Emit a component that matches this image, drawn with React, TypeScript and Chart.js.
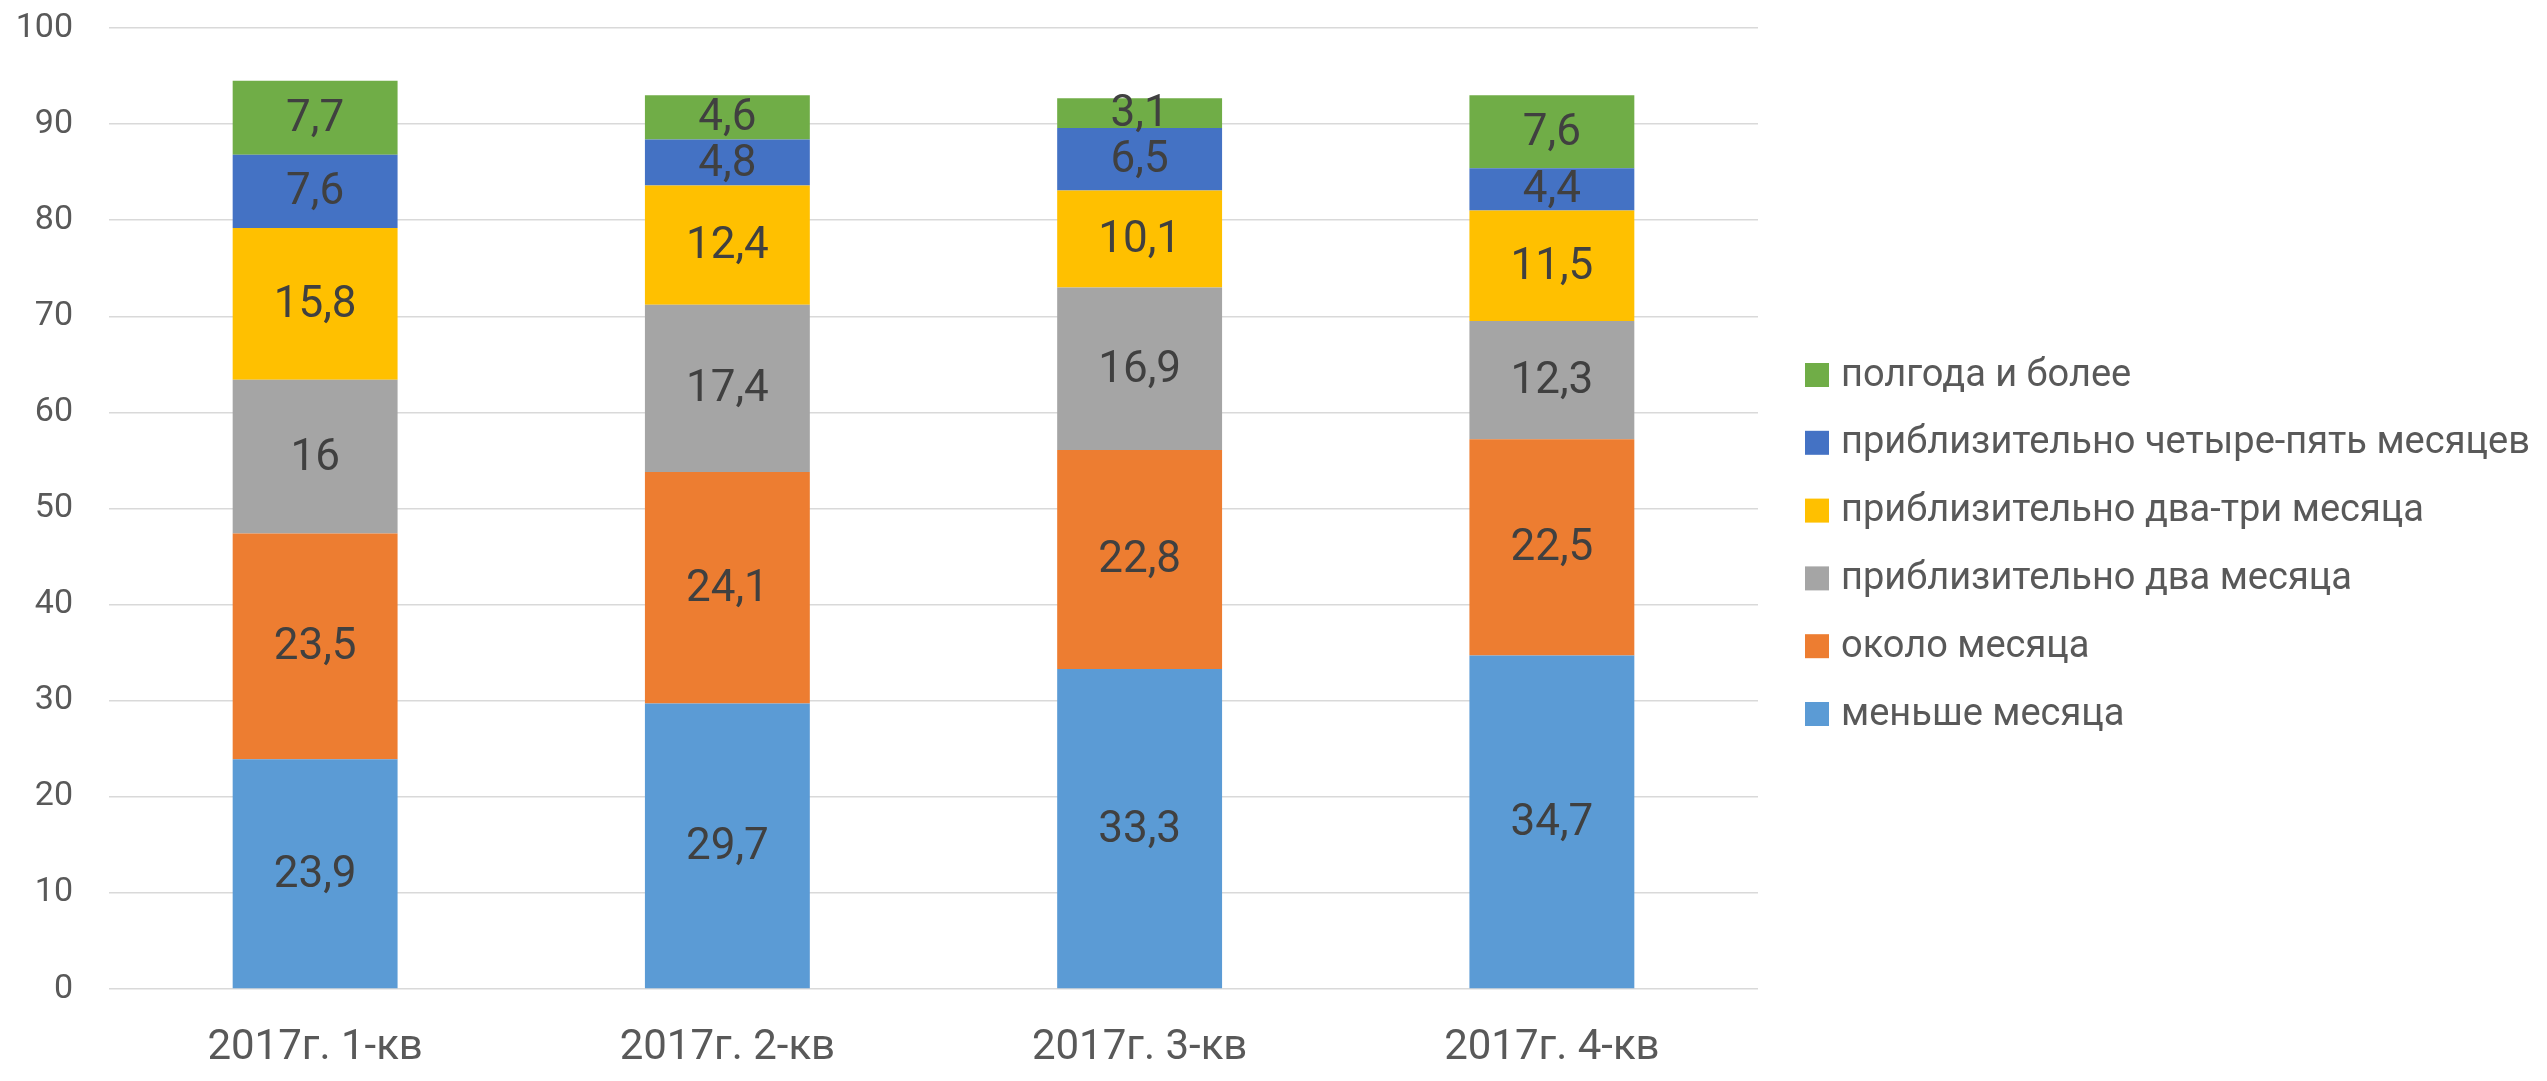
import React, { useEffect, useRef } from "react";
import { Chart, registerables } from "chart.js";

Chart.register(...registerables);

const categories = ["2017г. 1-кв", "2017г. 2-кв", "2017г. 3-кв", "2017г. 4-кв"];
const seriesNames = [
  "меньше месяца",
  "около месяца",
  "приблизительно два месяца",
  "приблизительно два-три месяца",
  "приблизительно четыре-пять месяцев",
  "полгода и более",
];
const lessThanMonth = [23.9, 29.7, 33.3, 34.7];
const aboutMonth = [23.5, 24.1, 22.8, 22.5];
const twoMonths = [16, 17.4, 16.9, 12.3];
const twoThreeMonths = [15.8, 12.4, 10.1, 11.5];
const fourFiveMonths = [7.6, 4.8, 6.5, 4.4];
const halfYearPlus = [7.7, 4.6, 3.1, 7.6];
const seriesColors = ["#5B9BD5", "#ED7D31", "#A5A5A5", "#FFC000", "#4472C4", "#70AD47"];
const yMin = 0;
const yMax = 100;
const yStep = 10;

const FONT = "Roboto, 'Noto Sans', sans-serif";

const fmt = (v: number) => String(v).replace(".", ",");

const dataLabelPlugin = {
  id: "dataLabels",
  afterDatasetsDraw(chart: any) {
    const ctx = chart.ctx;
    ctx.save();
    ctx.font = `44px ${FONT}`;
    ctx.fillStyle = "#404040";
    ctx.textAlign = "center";
    ctx.textBaseline = "middle";
    chart.data.datasets.forEach((ds: any, i: number) => {
      const meta = chart.getDatasetMeta(i);
      meta.data.forEach((el: any, j: number) => {
        const cy = (el.y + el.base) / 2;
        ctx.fillText(fmt(ds.data[j]), el.x, cy + 2);
      });
    });
    ctx.restore();
  },
};

const legendPlugin = {
  id: "customLegend",
  afterDraw(chart: any) {
    const ctx = chart.ctx;
    const ds = chart.data.datasets;
    const n = ds.length;
    const rowH = 67.8;
    const midY = chart.height / 2 + 4;
    const x0 = 1805;
    const box = 24;
    ctx.save();
    ctx.font = `38px ${FONT}`;
    ctx.textBaseline = "middle";
    ctx.textAlign = "left";
    for (let k = 0; k < n; k++) {
      const idx = n - 1 - k;
      const cy = midY + (k - (n - 1) / 2) * rowH;
      ctx.fillStyle = ds[idx].backgroundColor;
      ctx.fillRect(x0, cy - box / 2, box, box);
      ctx.fillStyle = "#595959";
      ctx.fillText(ds[idx].label, x0 + 36, cy + 1);
    }
    ctx.restore();
  },
};

export default function App() {
  const ref = useRef<HTMLCanvasElement>(null);
  useEffect(() => {
    const values = [lessThanMonth, aboutMonth, twoMonths, twoThreeMonths, fourFiveMonths, halfYearPlus];
    const chart = new Chart(ref.current as HTMLCanvasElement, {
      type: "bar",
      data: {
        labels: categories,
        datasets: values.map((d, i) => ({
          label: seriesNames[i],
          data: d,
          backgroundColor: seriesColors[i],
          borderWidth: 0,
          barPercentage: 0.4,
          categoryPercentage: 1.0,
        })),
      },
      options: {
        animation: false,
        responsive: true,
        maintainAspectRatio: false,
        layout: { padding: { top: 28, right: 789, bottom: 0, left: 0 } },
        plugins: {
          legend: { display: false },
          tooltip: { enabled: false },
        },
        scales: {
          x: {
            stacked: true,
            grid: { display: false, drawTicks: false },
            border: { display: false },
            ticks: {
              color: "#595959",
              font: { family: FONT, size: 42 },
              padding: 34,
              maxRotation: 0,
            },
            afterFit: (s: any) => {
              s.height = 92;
            },
          },
          y: {
            stacked: true,
            min: yMin,
            max: yMax,
            grid: { color: "#D9D9D9", lineWidth: 1.5, drawTicks: false },
            border: { display: false },
            ticks: {
              stepSize: yStep,
              color: "#595959",
              font: { family: FONT, size: 34 },
              padding: 36,
            },
            afterFit: (s: any) => {
              s.width = 109;
              s.paddingTop = 0;
              s.paddingBottom = 0;
            },
          },
        },
      },
      plugins: [dataLabelPlugin, legendPlugin],
    });
    return () => chart.destroy();
  }, []);
  return (
    <div style={{ position: "absolute", left: 0, top: 0, width: 2547, height: 1081, background: "#fff" }}>
      <canvas ref={ref} />
    </div>
  );
}
